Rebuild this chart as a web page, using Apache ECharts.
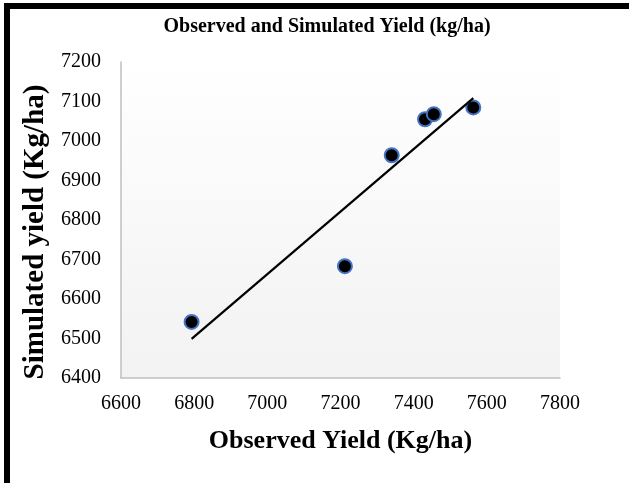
<!DOCTYPE html>
<html>
<head>
<meta charset="utf-8">
<style>html,body{margin:0;padding:0;background:#fff}#c{width:629px;height:483px}</style>
<script src="https://cdn.jsdelivr.net/npm/echarts@6/dist/echarts.min.js"></script>
</head>
<body>
<div id="c"></div>
<script>
var observed = [6793, 7212, 7340, 7431, 7455, 7563];
var simulated = [6542, 6683, 6964, 7055, 7068, 7085];
var xTicks = [6600, 6800, 7000, 7200, 7400, 7600, 7800];
var yTicks = [6400, 6500, 6600, 6700, 6800, 6900, 7000, 7100, 7200];

var points = observed.map(function (x, i) { return [x, simulated[i]]; });
// least-squares linear trendline
var n = observed.length, mx = 0, my = 0;
for (var i = 0; i < n; i++) { mx += observed[i]; my += simulated[i]; }
mx /= n; my /= n;
var sxy = 0, sxx = 0;
for (var i = 0; i < n; i++) { sxy += (observed[i] - mx) * (simulated[i] - my); sxx += (observed[i] - mx) * (observed[i] - mx); }
var slope = sxy / sxx, intercept = my - slope * mx;
var xMin = Math.min.apply(null, observed), xMax = Math.max.apply(null, observed);
var trend = [[xMin, intercept + slope * xMin], [xMax, intercept + slope * xMax]];

var font = 'Liberation Serif, Times New Roman, serif';
var plain = function (v) { return String(v); };
var chart = echarts.init(document.getElementById('c'), null, { renderer: 'canvas' });
chart.setOption({
  animation: false,
  title: {
    text: 'Observed and Simulated Yield (kg/ha)',
    left: 322, top: 12, textAlign: 'center',
    textStyle: { fontFamily: font, fontWeight: 'bold', fontSize: 20, color: '#000' }
  },
  grid: {
    left: 121, right: 69, top: 62, bottom: 105, show: true, borderWidth: 0,
    backgroundColor: new echarts.graphic.LinearGradient(0, 0, 0, 1, [
      { offset: 0, color: '#ffffff' }, { offset: 1, color: '#f2f2f2' }
    ])
  },
  xAxis: {
    type: 'value', min: xTicks[0], max: xTicks[xTicks.length - 1], interval: 200,
    name: 'Observed Yield (Kg/ha)', nameLocation: 'middle', nameGap: 50,
    nameTextStyle: { fontFamily: font, fontWeight: 'bold', fontSize: 26, color: '#000' },
    axisLine: { lineStyle: { color: '#bfbfbf', width: 1.5 } },
    axisTick: { show: false },
    splitLine: { show: false },
    axisLabel: { fontFamily: font, fontSize: 20, color: '#000', margin: 16, formatter: plain }
  },
  yAxis: {
    type: 'value', min: yTicks[0], max: yTicks[yTicks.length - 1], interval: 100,
    name: 'Simulated yield (Kg/ha)', nameLocation: 'middle', nameGap: 60,
    nameTextStyle: { fontFamily: font, fontWeight: 'bold', fontSize: 29, color: '#000', padding: [0, 24, 0, 0] },
    axisLine: { show: true, lineStyle: { color: '#bfbfbf', width: 1.5 } },
    axisTick: { show: false },
    splitLine: { show: false },
    axisLabel: { fontFamily: font, fontSize: 20, color: '#000', margin: 20, formatter: plain }
  },
  series: [
    {
      type: 'line', data: trend, showSymbol: false, symbol: 'none',
      lineStyle: { color: '#000', width: 2.2 }, z: 3
    },
    {
      type: 'scatter', data: points, symbol: 'circle', symbolSize: 14,
      itemStyle: { color: '#000', borderColor: '#4472c4', borderWidth: 2, opacity: 1 }, z: 2
    }
  ],
  graphic: [
    { type: 'rect', shape: { x: 4, y: 3, width: 625, height: 6 }, style: { fill: '#000' } },
    { type: 'rect', shape: { x: 4, y: 3, width: 6, height: 480 }, style: { fill: '#000' } }
  ]
});
</script>
</body>
</html>
